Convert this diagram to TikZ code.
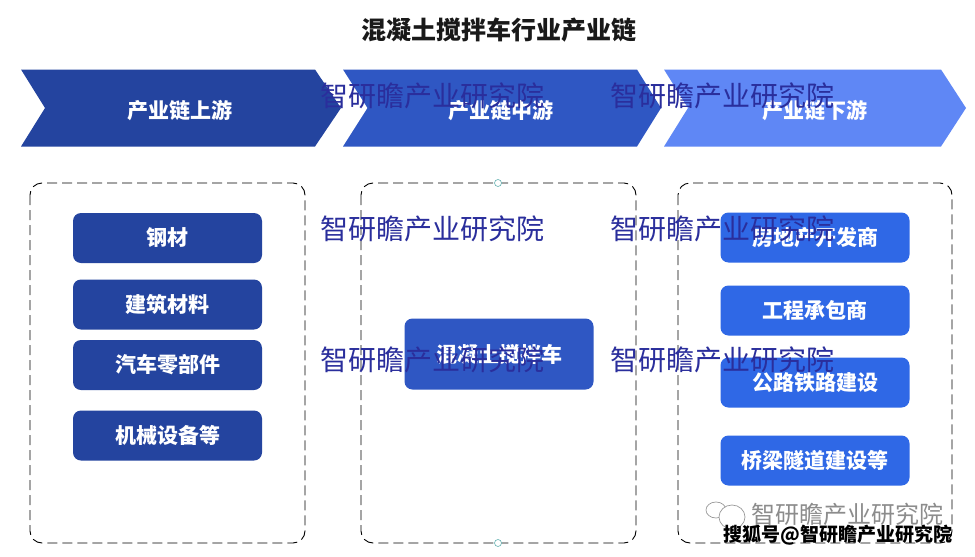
\documentclass[tikz,border=0pt]{standalone}
\usepackage{fontspec}
\setmainfont{Noto Sans CJK SC}
\tikzset{
    titletext/.style={font=\fontsize{25}{25}\selectfont\bfseries,text=black!90},
    headtext/.style={font=\fontsize{21}{21}\selectfont\bfseries,text=white},
    itembox/.style={rounded corners=8pt,minimum width=189pt,minimum height=50pt,inner sep=0pt,font=\fontsize{21}{21}\selectfont\bfseries,text=white},
    upbox/.style={itembox,fill=upblue},
    midbox/.style={itembox,fill=midblue},
    downbox/.style={itembox,fill=downblue},
    groupbox/.style={draw=black,line width=0.9pt,dash pattern=on 10pt off 5pt,rounded corners=12pt},
    handle/.style={circle,draw=teal!60,fill=white,line width=0.6pt,minimum size=7pt,inner sep=0pt},
    mark text/.style={font=\fontsize{28}{28}\selectfont,text=markblue},
}
\definecolor{upblue}{HTML}{24449F}
\definecolor{midblue}{HTML}{2F57C3}
\definecolor{downblue}{HTML}{2F68E6}
\definecolor{lightblue}{HTML}{5F87F5}
\definecolor{markblue}{HTML}{2A2E9C}
\begin{document}
\begin{tikzpicture}[x=1pt,y=-1pt]
                \useasboundingbox (0,0) rectangle (975,557);
                \fill[white] (0,0) rectangle (975,557);

                \node[titletext] (title) at (498.5,30) {混凝土搅拌车行业产业链};

                \fill[upblue] (21,69.5) -- (315,69.5) -- (341,108) -- (315,146.5) -- (21,146.5) -- (45,108) -- cycle;
                \fill[midblue] (343,69.5) -- (637,69.5) -- (661,108) -- (637,146.5) -- (343,146.5) -- (367.5,108) -- cycle;
                \fill[lightblue] (664,69.5) -- (941,69.5) -- (966,108) -- (941,146.5) -- (664,146.5) -- (688,108) -- cycle;
                \node[headtext] (upstream) at (180,110.5) {产业链上游};
                \node[headtext] (midstream) at (501,110.5) {产业链中游};
                \node[headtext] (downstream) at (815,110.5) {产业链下游};

                \draw[groupbox] (30,183) rectangle (305,543);
                \draw[groupbox] (361,183) rectangle (636,543);
                \draw[groupbox] (678,183) rectangle (952,543);
                \node[handle] (handletop) at (498,183) {};
                \node[handle] (handlebottom) at (498,543) {};

                \node[upbox] (steel) at (167.5,238) {钢材};
                \node[upbox] (building) at (167.5,304.5) {建筑材料};
                \node[upbox] (autoparts) at (167.5,365) {汽车零部件};
                \node[upbox] (machinery) at (167.5,435.5) {机械设备等};

                \node[midbox,minimum height=71pt] (mixer) at (499,354) {混凝土搅拌车};

                \node[downbox] (estate) at (815,237.5) {房地产开发商};
                \node[downbox] (contractor) at (815,310.5) {工程承包商};
                \node[downbox] (railway) at (815,382.5) {公路铁路建设};
                \node[downbox] (bridge) at (815,460.5) {桥梁隧道建设等};

                \node[mark text] (markA) at (432,95.5) {智研瞻产业研究院};
                \node[mark text] (markB) at (722,95.5) {智研瞻产业研究院};
                \node[mark text] (markC) at (432,228.5) {智研瞻产业研究院};
                \node[mark text] (markD) at (722,228.5) {智研瞻产业研究院};
                \node[mark text] (markE) at (432,359.5) {智研瞻产业研究院};
                \node[mark text] (markF) at (722,359.5) {智研瞻产业研究院};

                \draw[black!40,line width=0.7pt,fill=white] (716,510) ellipse (10pt and 8pt);
                \draw[black!40,line width=0.7pt,fill=white] (732,517) ellipse (13pt and 12pt);
                \node[font=\fontsize{24}{24}\selectfont,text=black!45] (sourceA) at (847.5,514) {智研瞻产业研究院};
                \node[font=\fontsize{19}{19}\selectfont\bfseries,text=black,inner sep=0pt] (sourceB) at (838,535) {搜狐号@智研瞻产业研究院};
            \end{tikzpicture}
\end{document}
